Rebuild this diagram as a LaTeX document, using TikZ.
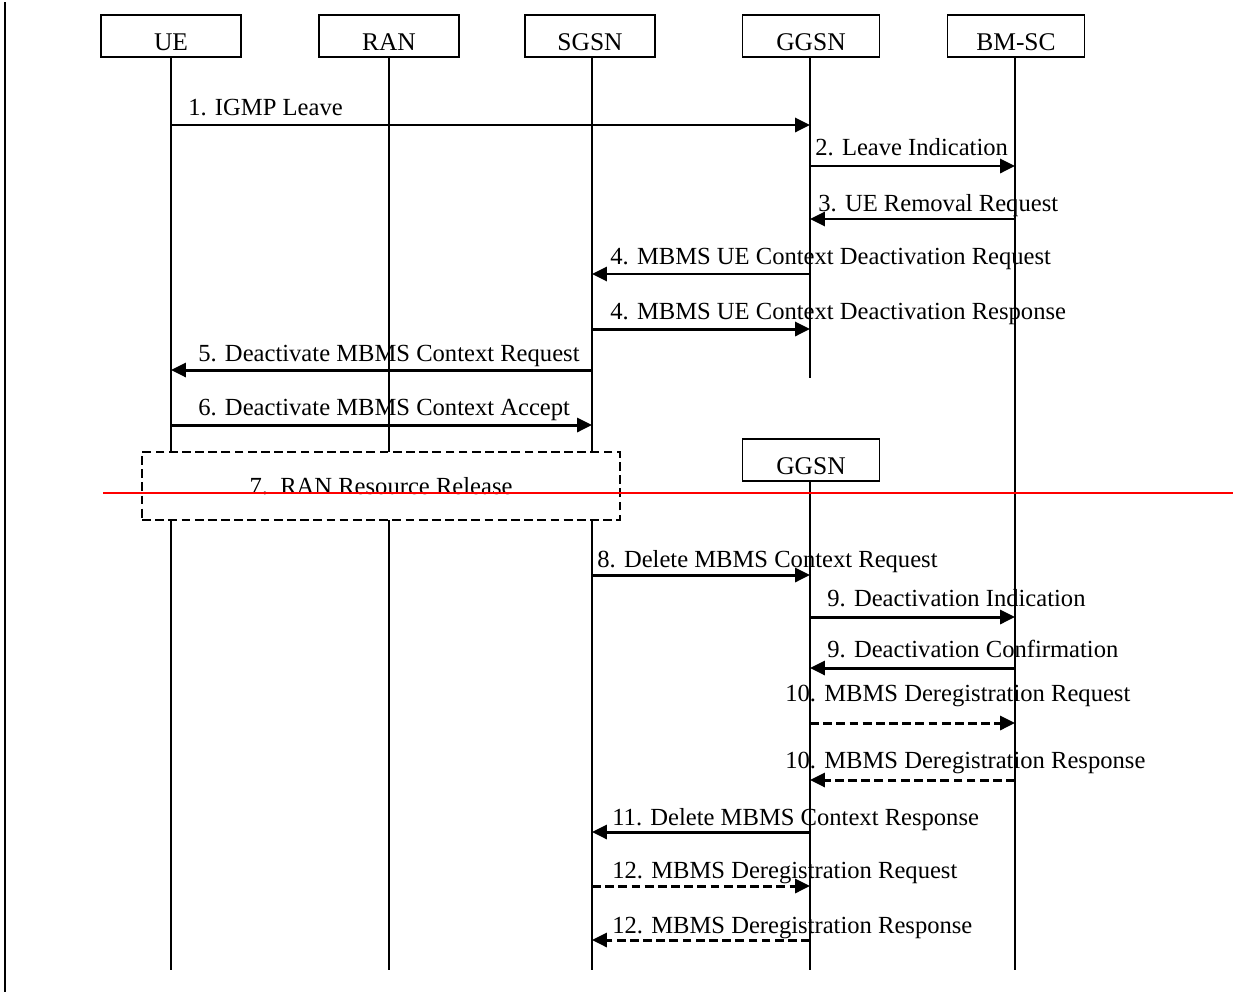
\documentclass[tikz,border=0pt]{standalone}
\usepackage{fontspec}
\setmainfont{Liberation Serif}
\usetikzlibrary{positioning,arrows.meta}

\begin{document}
\begin{tikzpicture}[x=0.02cm,y=-0.02cm,
    font=\fontsize{14}{16}\selectfont,
    entity/.style={draw,line width=0.9pt,minimum height=0.84cm,inner sep=0pt,
      text height=17pt,text depth=0pt,font=\fontsize{14.5}{16}\selectfont},
    lifeline/.style={line width=0.6pt},
    msg/.style={line width=1.7pt,-{Triangle[length=8.5pt,width=8pt]}},
    reply/.style={msg,dash pattern=on 5pt off 2.5pt},
    lbl/.style={anchor=base west,inner sep=0pt}]
    \useasboundingbox (0,0) rectangle (1233,994);

    % left margin rule
    \coordinate (rule top) at (5,2);
    \coordinate (rule bot) at (5,992);
    \draw[line width=1.1pt] (rule top) -- (rule bot);

    % entities
    \node[entity,minimum width=2.8cm] (ue) at (171,36) {UE};
    \node[entity,minimum width=2.8cm] (ran) at (389,36) {RAN};
    \node[entity,minimum width=2.6cm] (sgsn) at (590,36) {SGSN};
    \node[entity,minimum width=2.74cm] (ggsn) at (811,36) {GGSN};
    \node[entity,minimum width=2.74cm] (bmsc) at (1016,36) {BM-SC};
    \node[entity,minimum width=2.74cm] (ggsn2) at (811,460) {GGSN};

    \coordinate (ue-end) at (171,970);
    \coordinate (ran-end) at (389,970);
    \coordinate (sgsn-end) at (592,970);
    \coordinate (ggsn-cut) at (810,378);
    \coordinate (ggsn-end) at (810,970);
    \coordinate (bmsc-end) at (1015,970);

    \draw[lifeline] (ue) -- (ue-end);
    \draw[lifeline] (ran) -- (ran-end);
    \draw[lifeline] (sgsn.south -| sgsn-end) -- (sgsn-end);
    \draw[lifeline] (ggsn.south -| ggsn-cut) -- (ggsn-cut);
    \draw[lifeline] (ggsn2.south -| ggsn-end) -- (ggsn-end);
    \draw[lifeline] (bmsc.south -| bmsc-end) -- (bmsc-end);

    % message rows
    \foreach \r/\y in {1/125,2/166,3/219,4/274,5/329,6/370,7/425,8/575,9/617,
                       10/668,11/723,12/780,13/832,14/886,15/940}
      \foreach \e in {ue,sgsn,ggsn,bmsc}
        \coordinate (\e-\r) at (\e-end |- 0,\y);

    \draw[msg] (ue-1) -- (ggsn-1);
    \node[lbl] (l1) at (188,115) {1. IGMP Leave};
    \draw[msg] (ggsn-2) -- (bmsc-2);
    \node[lbl] (l2) at (815,155) {2. Leave Indication};
    \draw[msg] (bmsc-3) -- (ggsn-3);
    \node[lbl] (l3) at (818,211) {3. UE Removal Request};
    \draw[msg] (ggsn-4) -- (sgsn-4);
    \node[lbl] (l4) at (610,264) {4. MBMS UE Context Deactivation Request};
    \draw[msg] (sgsn-5) -- (ggsn-5);
    \node[lbl] (l5) at (610,319) {4. MBMS UE Context Deactivation Response};
    \draw[msg] (sgsn-6) -- (ue-6);
    \node[lbl] (l6) at (198,361) {5. Deactivate MBMS Context Request};
    \draw[msg] (ue-7) -- (sgsn-7);
    \node[lbl] (l7) at (198,415) {6. Deactivate MBMS Context Accept};

    % RAN resource release
    \node[draw,fill=white,line width=1.5pt,dash pattern=on 5pt off 2.5pt,
      minimum width=9.56cm,minimum height=1.36cm] (release) at (381,486)
      {7.\ \ RAN Resource Release};

    \draw[msg] (sgsn-8) -- (ggsn-8);
    \node[lbl] (l8) at (597,567) {8. Delete MBMS Context Request};
    \draw[msg] (ggsn-9) -- (bmsc-9);
    \node[lbl] (l9) at (827,606) {9. Deactivation Indication};
    \draw[msg] (bmsc-10) -- (ggsn-10);
    \node[lbl] (l10) at (827,657) {9. Deactivation Confirmation};
    \draw[reply] (ggsn-11) -- (bmsc-11);
    \node[lbl] (l11) at (785,701) {10. MBMS Deregistration Request};
    \draw[reply] (bmsc-12) -- (ggsn-12);
    \node[lbl] (l12) at (785,768) {10. MBMS Deregistration Response};
    \draw[msg] (ggsn-13) -- (sgsn-13);
    \node[lbl] (l13) at (612,825) {11. Delete MBMS Context Response};
    \draw[reply] (sgsn-14) -- (ggsn-14);
    \node[lbl] (l14) at (612,878) {12. MBMS Deregistration Request};
    \draw[reply] (ggsn-15) -- (sgsn-15);
    \node[lbl] (l15) at (612,933) {12. MBMS Deregistration Response};

    % red marker line
    \coordinate (red left) at (103,493);
    \coordinate (red right) at (1233,493);
    \draw[red,line width=1.2pt] (red left) -- (red right);
\end{tikzpicture}
\end{document}
